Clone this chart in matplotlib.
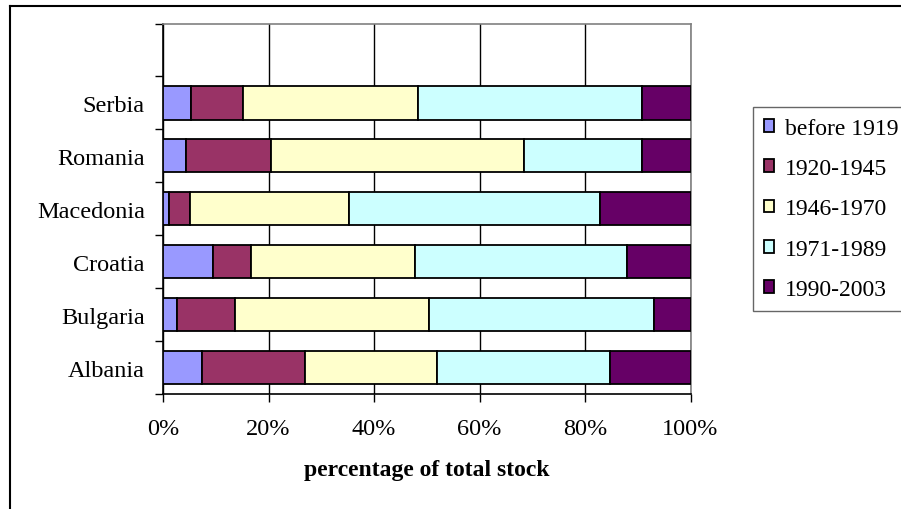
import matplotlib
matplotlib.use("Agg")
import matplotlib.pyplot as plt
from matplotlib.lines import Line2D
import numpy as np

plt.rcParams['font.family'] = ['Liberation Serif', 'DejaVu Serif']

countries = ["Albania", "Bulgaria", "Croatia", "Macedonia", "Romania", "Serbia"]
periods = ["before 1919", "1920-1945", "1946-1970", "1971-1989", "1990-2003"]
before_1919 = [7.3, 2.7, 9.5, 1.2, 4.4, 5.4]
p1920_1945 = [19.6, 11.0, 7.1, 4.0, 16.1, 9.7]
p1946_1970 = [25.1, 36.8, 31.1, 30.0, 47.9, 33.3]
p1971_1989 = [32.8, 42.5, 40.3, 47.7, 22.4, 42.4]
p1990_2003 = [15.2, 7.0, 12.0, 17.1, 9.2, 9.2]
colors = ["#9999FF", "#993366", "#FFFFCC", "#CCFFFF", "#660066"]
xticks = [0, 20, 40, 60, 80, 100]
xticklabels = ["0%", "20%", "40%", "60%", "80%", "100%"]

series = [before_1919, p1920_1945, p1946_1970, p1971_1989, p1990_2003]

fig = plt.figure(figsize=(9.01, 5.10), dpi=100)
W, H = 901, 510
ax = fig.add_axes([163 / W, 1 - 395 / H, (690.5 - 163) / W, (395 - 24.5) / H])

y = np.arange(len(countries))
left = np.zeros(len(countries))
for vals, col, lab in zip(series, colors, periods):
    v = np.array(vals)
    ax.barh(y, v, left=left, height=0.63, color=col, edgecolor="black",
            linewidth=1.3, label=lab, zorder=3)
    left += v

ax.set_xlim(0, 100)
ax.set_ylim(-0.5, 6.5)
ax.set_xticks(xticks)
ax.set_xticklabels(xticklabels, fontsize=17.5)
ax.set_yticks(np.arange(-0.5, 7.0, 1.0))
ax.set_yticklabels([])
ax.set_yticks(y, minor=True)
ax.set_yticklabels(countries, minor=True, fontsize=17.5)
ax.tick_params(axis='y', which='minor', length=0, pad=13)
ax.tick_params(axis='y', which='major', length=6, width=1, direction='out')
ax.tick_params(axis='x', length=6, width=1, direction='out', pad=11)

ax.xaxis.grid(True, color="black", linewidth=1.0, zorder=0)
ax.set_axisbelow(True)
for s in ['top', 'right']:
    ax.spines[s].set_color("#808080")
    ax.spines[s].set_linewidth(1.2)
for s in ['left', 'bottom']:
    ax.spines[s].set_color("black")
    ax.spines[s].set_linewidth(1.2)

ax.set_xlabel("percentage of total stock", fontsize=17, fontweight='bold', labelpad=15)

handles, labels = ax.get_legend_handles_labels()
leg = fig.legend(handles, labels, loc='upper left',
                 bbox_to_anchor=(753 / W, 1 - 108 / H), fontsize=17,
                 frameon=True, fancybox=False, edgecolor="#404040",
                 handlelength=0.45, handleheight=0.45, handletextpad=0.45,
                 labelspacing=0.82, borderpad=0.45, borderaxespad=0)
leg.get_frame().set_linewidth(1.0)

# outer chart frame
fig.add_artist(Line2D([9.5 / W, 1.0], [1 - 6.5 / H, 1 - 6.5 / H],
                      transform=fig.transFigure, color="black", linewidth=1.5))
fig.add_artist(Line2D([9.5 / W, 9.5 / W], [0.0, 1 - 6.5 / H],
                      transform=fig.transFigure, color="black", linewidth=1.5))

fig.savefig("out.png", dpi=100)
